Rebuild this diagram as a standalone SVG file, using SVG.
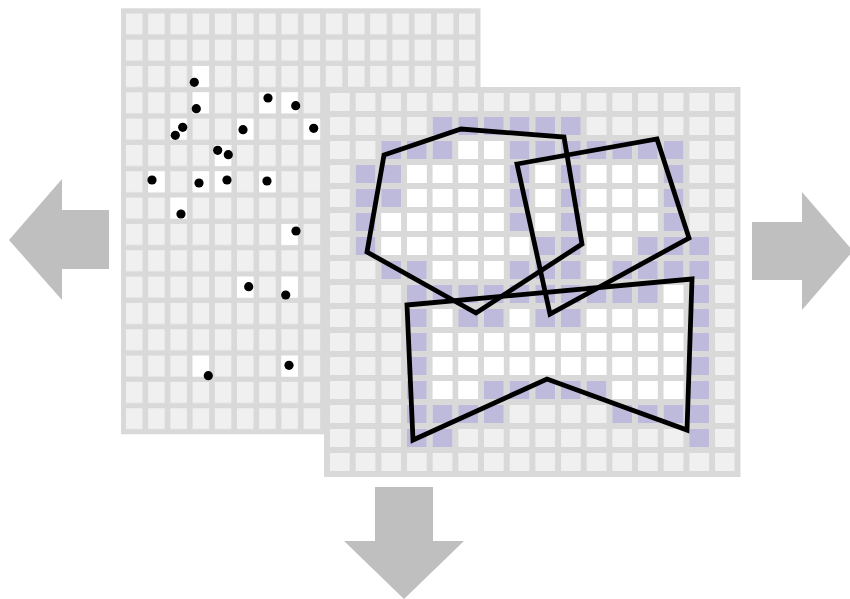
<svg xmlns="http://www.w3.org/2000/svg" xmlns:xlink="http://www.w3.org/1999/xlink" width="850" height="599" viewBox="0 0 850 599">
<style>
.bg{fill:#d9d9d9}
.poly{fill:none;stroke:#000;stroke-width:4.8;stroke-linejoin:miter}
.pt{fill:#000}
.arrow{fill:#bfbfbf}
</style>
<defs>
<pattern id="lpat" patternUnits="userSpaceOnUse" x="126" y="13.3" width="22.2" height="26.33">
<rect width="16.5" height="21" fill="#f0f0f0"/>
</pattern>
<pattern id="rpat" patternUnits="userSpaceOnUse" x="330" y="93" width="25.67" height="24">
<rect width="19.7" height="18" fill="#f0f0f0"/>
</pattern>
<rect id="lw" width="16.5" height="21" fill="#ffffff"/>
<rect id="rw" width="19.7" height="18" fill="#ffffff"/>
<rect id="rp" width="19.7" height="18" fill="#bebadb"/>
</defs>
<rect width="850" height="599" fill="#ffffff"/>

<g id="left-grid">
<rect class="bg" x="121" y="8.3" width="359.5" height="426"/>
<rect x="126" y="13.3" width="349.5" height="416" fill="url(#lpat)"/>
<use xlink:href="#lw" x="192.6" y="65.97"/>
<use xlink:href="#lw" x="192.6" y="92.3"/>
<use xlink:href="#lw" x="170.4" y="118.6"/>
<use xlink:href="#lw" x="259.2" y="92.3"/>
<use xlink:href="#lw" x="281.4" y="92.3"/>
<use xlink:href="#lw" x="237" y="118.6"/>
<use xlink:href="#lw" x="303.6" y="118.6"/>
<use xlink:href="#lw" x="214.8" y="144.95"/>
<use xlink:href="#lw" x="148.2" y="171.3"/>
<use xlink:href="#lw" x="192.6" y="171.3"/>
<use xlink:href="#lw" x="214.8" y="171.3"/>
<use xlink:href="#lw" x="259.2" y="171.3"/>
<use xlink:href="#lw" x="170.4" y="197.6"/>
<use xlink:href="#lw" x="281.4" y="223.9"/>
<use xlink:href="#lw" x="237" y="276.6"/>
<use xlink:href="#lw" x="281.4" y="276.6"/>
<use xlink:href="#lw" x="192.6" y="355.6"/>
<use xlink:href="#lw" x="281.4" y="355.6"/>
</g>

<g id="points">
<circle class="pt" cx="194.3" cy="82.3" r="4.6"/>
<circle class="pt" cx="196.3" cy="108.7" r="4.6"/>
<circle class="pt" cx="182.7" cy="127.3" r="4.6"/>
<circle class="pt" cx="175.3" cy="135.3" r="4.6"/>
<circle class="pt" cx="268" cy="98" r="4.6"/>
<circle class="pt" cx="295.7" cy="105.7" r="4.6"/>
<circle class="pt" cx="243" cy="129.7" r="4.6"/>
<circle class="pt" cx="313.7" cy="128.3" r="4.6"/>
<circle class="pt" cx="217.7" cy="150.3" r="4.6"/>
<circle class="pt" cx="228.3" cy="154.7" r="4.6"/>
<circle class="pt" cx="152" cy="180" r="4.6"/>
<circle class="pt" cx="199" cy="183" r="4.6"/>
<circle class="pt" cx="227" cy="180" r="4.6"/>
<circle class="pt" cx="267" cy="181" r="4.6"/>
<circle class="pt" cx="181" cy="214" r="4.6"/>
<circle class="pt" cx="296" cy="231" r="4.6"/>
<circle class="pt" cx="248.7" cy="286.7" r="4.6"/>
<circle class="pt" cx="285.7" cy="295" r="4.6"/>
<circle class="pt" cx="208.3" cy="375.7" r="4.6"/>
<circle class="pt" cx="289" cy="365.3" r="4.6"/>
</g>

<g id="right-grid">
<rect class="bg" x="324" y="87" width="416.5" height="390"/>
<rect x="330" y="93" width="404.75" height="378" fill="url(#rpat)"/>
<!-- row 1 -->
<use xlink:href="#rp" x="432.67" y="117"/><use xlink:href="#rp" x="458.33" y="117"/><use xlink:href="#rp" x="484" y="117"/><use xlink:href="#rp" x="509.67" y="117"/><use xlink:href="#rp" x="535.33" y="117"/><use xlink:href="#rp" x="561" y="117"/>
<!-- row 2 -->
<use xlink:href="#rp" x="381.33" y="141"/><use xlink:href="#rp" x="407" y="141"/><use xlink:href="#rp" x="432.67" y="141"/><use xlink:href="#rw" x="458.33" y="141"/><use xlink:href="#rw" x="484" y="141"/><use xlink:href="#rp" x="509.67" y="141"/><use xlink:href="#rp" x="535.33" y="141"/><use xlink:href="#rp" x="561" y="141"/><use xlink:href="#rp" x="586.67" y="141"/><use xlink:href="#rp" x="612.33" y="141"/><use xlink:href="#rp" x="638" y="141"/><use xlink:href="#rp" x="663.67" y="141"/>
<!-- row 3 -->
<use xlink:href="#rp" x="355.67" y="165"/><use xlink:href="#rp" x="381.33" y="165"/><use xlink:href="#rw" x="407" y="165"/><use xlink:href="#rw" x="432.67" y="165"/><use xlink:href="#rw" x="458.33" y="165"/><use xlink:href="#rw" x="484" y="165"/><use xlink:href="#rp" x="509.67" y="165"/><use xlink:href="#rw" x="535.33" y="165"/><use xlink:href="#rp" x="561" y="165"/><use xlink:href="#rw" x="586.67" y="165"/><use xlink:href="#rw" x="612.33" y="165"/><use xlink:href="#rw" x="638" y="165"/><use xlink:href="#rp" x="663.67" y="165"/>
<!-- row 4 -->
<use xlink:href="#rp" x="355.67" y="189"/><use xlink:href="#rp" x="381.33" y="189"/><use xlink:href="#rw" x="407" y="189"/><use xlink:href="#rw" x="432.67" y="189"/><use xlink:href="#rw" x="458.33" y="189"/><use xlink:href="#rw" x="484" y="189"/><use xlink:href="#rp" x="509.67" y="189"/><use xlink:href="#rw" x="535.33" y="189"/><use xlink:href="#rp" x="561" y="189"/><use xlink:href="#rw" x="586.67" y="189"/><use xlink:href="#rw" x="612.33" y="189"/><use xlink:href="#rw" x="638" y="189"/><use xlink:href="#rp" x="663.67" y="189"/>
<!-- row 5 -->
<use xlink:href="#rp" x="355.67" y="213"/><use xlink:href="#rw" x="381.33" y="213"/><use xlink:href="#rw" x="407" y="213"/><use xlink:href="#rw" x="432.67" y="213"/><use xlink:href="#rw" x="458.33" y="213"/><use xlink:href="#rw" x="484" y="213"/><use xlink:href="#rp" x="509.67" y="213"/><use xlink:href="#rw" x="535.33" y="213"/><use xlink:href="#rp" x="561" y="213"/><use xlink:href="#rw" x="586.67" y="213"/><use xlink:href="#rw" x="612.33" y="213"/><use xlink:href="#rw" x="638" y="213"/><use xlink:href="#rp" x="663.67" y="213"/>
<!-- row 6 -->
<use xlink:href="#rp" x="355.67" y="237"/><use xlink:href="#rw" x="381.33" y="237"/><use xlink:href="#rw" x="407" y="237"/><use xlink:href="#rw" x="432.67" y="237"/><use xlink:href="#rw" x="458.33" y="237"/><use xlink:href="#rw" x="484" y="237"/><use xlink:href="#rw" x="509.67" y="237"/><use xlink:href="#rp" x="535.33" y="237"/><use xlink:href="#rp" x="561" y="237"/><use xlink:href="#rw" x="586.67" y="237"/><use xlink:href="#rw" x="612.33" y="237"/><use xlink:href="#rp" x="638" y="237"/><use xlink:href="#rp" x="663.67" y="237"/><use xlink:href="#rp" x="689.33" y="237"/>
<!-- row 7 -->
<use xlink:href="#rp" x="381.33" y="261"/><use xlink:href="#rp" x="407" y="261"/><use xlink:href="#rw" x="432.67" y="261"/><use xlink:href="#rw" x="458.33" y="261"/><use xlink:href="#rw" x="484" y="261"/><use xlink:href="#rp" x="509.67" y="261"/><use xlink:href="#rp" x="535.33" y="261"/><use xlink:href="#rp" x="561" y="261"/><use xlink:href="#rw" x="586.67" y="261"/><use xlink:href="#rp" x="612.33" y="261"/><use xlink:href="#rp" x="638" y="261"/><use xlink:href="#rp" x="663.67" y="261"/><use xlink:href="#rp" x="689.33" y="261"/>
<!-- row 8 -->
<use xlink:href="#rp" x="407" y="285"/><use xlink:href="#rp" x="432.67" y="285"/><use xlink:href="#rp" x="458.33" y="285"/><use xlink:href="#rp" x="484" y="285"/><use xlink:href="#rp" x="509.67" y="285"/><use xlink:href="#rp" x="535.33" y="285"/><use xlink:href="#rp" x="561" y="285"/><use xlink:href="#rp" x="586.67" y="285"/><use xlink:href="#rp" x="612.33" y="285"/><use xlink:href="#rp" x="638" y="285"/><use xlink:href="#rw" x="663.67" y="285"/><use xlink:href="#rp" x="689.33" y="285"/>
<!-- row 9 -->
<use xlink:href="#rp" x="407" y="309"/><use xlink:href="#rw" x="432.67" y="309"/><use xlink:href="#rp" x="458.33" y="309"/><use xlink:href="#rp" x="484" y="309"/><use xlink:href="#rw" x="509.67" y="309"/><use xlink:href="#rp" x="535.33" y="309"/><use xlink:href="#rp" x="561" y="309"/><use xlink:href="#rw" x="586.67" y="309"/><use xlink:href="#rw" x="612.33" y="309"/><use xlink:href="#rw" x="638" y="309"/><use xlink:href="#rw" x="663.67" y="309"/><use xlink:href="#rp" x="689.33" y="309"/>
<!-- row 10 -->
<use xlink:href="#rp" x="407" y="333"/><use xlink:href="#rw" x="432.67" y="333"/><use xlink:href="#rw" x="458.33" y="333"/><use xlink:href="#rw" x="484" y="333"/><use xlink:href="#rw" x="509.67" y="333"/><use xlink:href="#rw" x="535.33" y="333"/><use xlink:href="#rw" x="561" y="333"/><use xlink:href="#rw" x="586.67" y="333"/><use xlink:href="#rw" x="612.33" y="333"/><use xlink:href="#rw" x="638" y="333"/><use xlink:href="#rw" x="663.67" y="333"/><use xlink:href="#rp" x="689.33" y="333"/>
<!-- row 11 -->
<use xlink:href="#rp" x="407" y="357"/><use xlink:href="#rw" x="432.67" y="357"/><use xlink:href="#rw" x="458.33" y="357"/><use xlink:href="#rw" x="484" y="357"/><use xlink:href="#rw" x="509.67" y="357"/><use xlink:href="#rw" x="535.33" y="357"/><use xlink:href="#rw" x="561" y="357"/><use xlink:href="#rw" x="586.67" y="357"/><use xlink:href="#rw" x="612.33" y="357"/><use xlink:href="#rw" x="638" y="357"/><use xlink:href="#rw" x="663.67" y="357"/><use xlink:href="#rp" x="689.33" y="357"/>
<!-- row 12 -->
<use xlink:href="#rp" x="407" y="381"/><use xlink:href="#rw" x="432.67" y="381"/><use xlink:href="#rw" x="458.33" y="381"/><use xlink:href="#rp" x="484" y="381"/><use xlink:href="#rp" x="509.67" y="381"/><use xlink:href="#rp" x="535.33" y="381"/><use xlink:href="#rp" x="561" y="381"/><use xlink:href="#rp" x="586.67" y="381"/><use xlink:href="#rw" x="612.33" y="381"/><use xlink:href="#rw" x="638" y="381"/><use xlink:href="#rw" x="663.67" y="381"/><use xlink:href="#rp" x="689.33" y="381"/>
<!-- row 13 -->
<use xlink:href="#rp" x="407" y="405"/><use xlink:href="#rp" x="432.67" y="405"/><use xlink:href="#rp" x="458.33" y="405"/><use xlink:href="#rp" x="484" y="405"/><use xlink:href="#rp" x="612.33" y="405"/><use xlink:href="#rp" x="638" y="405"/><use xlink:href="#rp" x="663.67" y="405"/><use xlink:href="#rp" x="689.33" y="405"/>
<!-- row 14 -->
<use xlink:href="#rp" x="407" y="429"/><use xlink:href="#rp" x="432.67" y="429"/><use xlink:href="#rp" x="689.33" y="429"/>
</g>

<g id="polygons">
<polygon id="poly-a" class="poly" points="384,155 461,129 564,137 582,244 476,313 367,252"/>
<polygon id="poly-b" class="poly" points="517,164 657,139 689,238 550,314"/>
<polygon id="poly-c" class="poly" points="407,305 692,279 687,430 547,379 413,440"/>
</g>

<g id="arrows">
<polygon id="arrow-left" class="arrow" points="9,240 62,179 62,210 109,210 109,269 62,269 62,300"/>
<polygon id="arrow-right" class="arrow" points="752,222 802,222 802,192 853,251 802,310 802,280 752,280"/>
<polygon id="arrow-down" class="arrow" points="375,487 433,487 433,541 464,541 404,599 344,541 375,541"/>
</g>
</svg>
